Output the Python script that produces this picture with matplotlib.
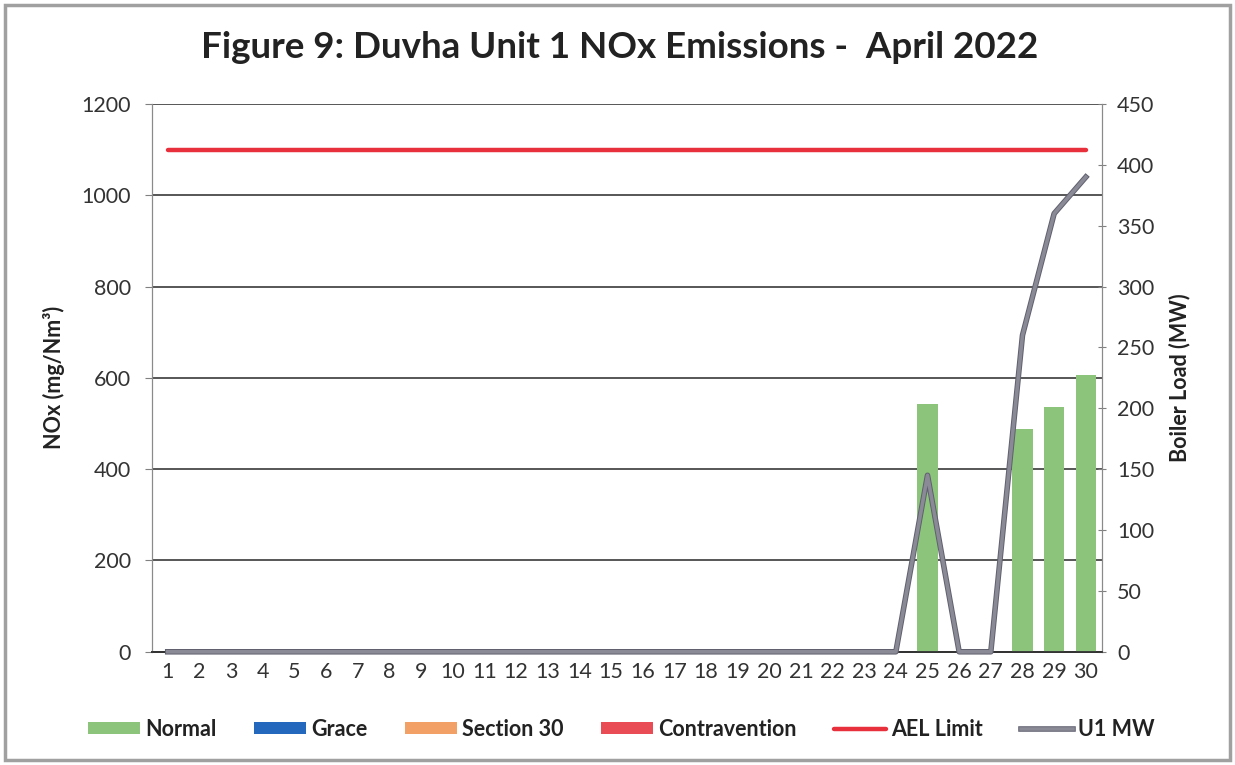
import matplotlib
matplotlib.use("Agg")
import matplotlib.pyplot as plt
import matplotlib.patheffects as pe
from matplotlib.patches import Rectangle
import numpy as np

plt.rcParams['font.family'] = ['Lato', 'DejaVu Sans']

days = list(range(1, 31))
normal = [0]*24 + [543, 0, 0, 488, 537, 606]
grace = [0]*30
section30 = [0]*30
contravention = [0]*30
ael_limit = [1100]*30
u1_mw = [0]*24 + [145, 0, 0, 260, 360, 390]

title = "Figure 9: Duvha Unit 1 NOx Emissions -  April 2022"
left_ticks = [0, 200, 400, 600, 800, 1000, 1200]
right_ticks = [0, 50, 100, 150, 200, 250, 300, 350, 400, 450]

fig = plt.figure(figsize=(12.35, 7.65), dpi=100)
ax = fig.add_axes([0.123, 0.148, 0.769, 0.716])
ax2 = ax.twinx()

x = np.array(days)
ax.bar(x, normal, width=0.65, color='#8cc47c', label='Normal', zorder=3)
ax.bar(x, grace, width=0.65, color='#2468be', label='Grace', zorder=3)
ax.bar(x, section30, width=0.65, color='#f2a066', label='Section 30', zorder=3)
ax.bar(x, contravention, width=0.65, color='#ea4c55', label='Contravention', zorder=3)
ax.plot(x, ael_limit, color='#e8303c', lw=3.2, label='AEL Limit', zorder=4, solid_capstyle='round')

ax.set_xlim(0.5, 30.5)
ax.set_ylim(0, 1200)
ax.set_yticks(left_ticks)
ax.set_xticks(days)
ax.set_xticklabels([str(d) for d in days])
ax.yaxis.grid(True, color='#3a3a3a', lw=1.2, zorder=0)
ax.set_axisbelow(True)
ax.tick_params(axis='y', labelsize=15.5, length=5, color='#808080', pad=10, labelcolor='#333333')
ax.tick_params(axis='x', labelsize=15.5, length=0, pad=7, labelcolor='#333333')
ax.set_ylabel("NOx (mg/Nm³)", fontsize=15.5, fontweight='bold', labelpad=12, color='#222222')

ax2.plot(x, u1_mw, color='#8a8a96', lw=2.6, label='U1 MW', zorder=5, clip_on=False,
         path_effects=[pe.Stroke(linewidth=4, foreground='#5f5f6e'), pe.Normal()])
ax2.set_ylim(0, 450)
ax2.set_yticks(right_ticks)
ax2.tick_params(axis='y', labelsize=15.5, length=6, color='#808080', pad=8, labelcolor='#333333', direction='inout')
ax2.set_ylabel("Boiler Load (MW)", fontsize=15.5, fontweight='bold', labelpad=10, color='#222222')

for a in (ax, ax2):
    a.spines['top'].set_visible(False)
    a.spines['left'].set_color('#8a8a8a')
    a.spines['right'].set_color('#8a8a8a')
    a.spines['bottom'].set_color('#333333')
    a.spines['bottom'].set_linewidth(1.3)

fig.text(0.502, 0.938, title, ha='center', va='center', fontsize=26.5, fontweight='bold', color='#222222')

h1, l1 = ax.get_legend_handles_labels()
h2, l2 = ax2.get_legend_handles_labels()
order = ['Normal', 'Grace', 'Section 30', 'Contravention', 'AEL Limit', 'U1 MW']
hd = dict(zip(l1 + l2, h1 + h2))
leg = fig.legend([hd[k] for k in order], order, loc='center', bbox_to_anchor=(0.503, 0.047), ncol=6,
                 frameon=False, handlelength=2.4, handleheight=0.5, columnspacing=1.75, handletextpad=0.25,
                 prop={'size': 15.5, 'weight': 'bold'})
for t in leg.get_texts():
    t.set_color('#222222')

fig.patches.append(Rectangle((0.004, 0.006), 0.992, 0.988, transform=fig.transFigure,
                             fill=False, edgecolor='#a0a0a0', lw=2.5))

fig.savefig("out.png", dpi=100)
